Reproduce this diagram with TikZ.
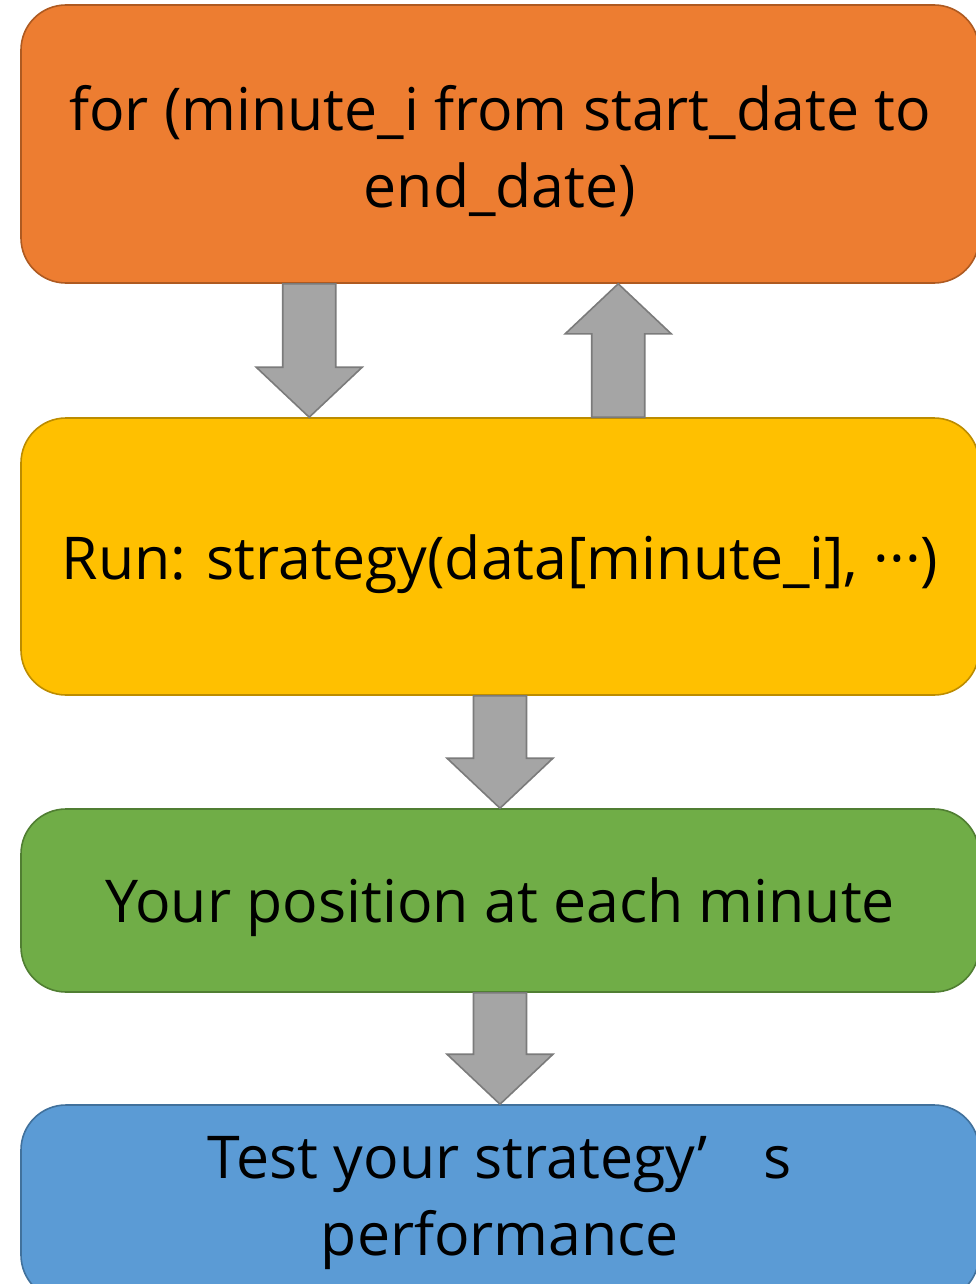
\documentclass[tikz,border=0pt]{standalone}
\usepackage{fontspec}
\setmainfont{Open Sans}
\usetikzlibrary{calc}

\definecolor{loopfill}{HTML}{ED7D31}\definecolor{loopline}{HTML}{AE5A21}
\definecolor{runfill}{HTML}{FFC000}\definecolor{runline}{HTML}{BC8C00}
\definecolor{posfill}{HTML}{70AD47}\definecolor{posline}{HTML}{507E32}
\definecolor{testfill}{HTML}{5B9BD5}\definecolor{testline}{HTML}{41719C}
\definecolor{arrowfill}{HTML}{A5A5A5}\definecolor{arrowline}{HTML}{7B7B7B}

\tikzset{
  stagebox/.style={draw, line width=1.6pt, rounded corners=45pt,
    minimum width=958pt, inner sep=0pt},
  stagetext/.style={align=center, inner sep=0pt,
    font=\fontsize{59}{77}\selectfont},
  blockarrow/.style={fill=arrowfill, draw=arrowline, line width=1.6pt, line join=miter}
}

% vertical block arrow: #1 start, #2 tip, #3 = 1 (down) or -1 (up)
\newcommand{\fatarrow}[3]{%
  \draw[blockarrow] let \p1=(#1), \p2=(#2) in
    (\x1-26.5pt,\y1) -- (\x1-26.5pt,\y2+#3*50pt) -- (\x1-53pt,\y2+#3*50pt)
    -- (\x2,\y2) -- (\x1+53pt,\y2+#3*50pt) -- (\x1+26.5pt,\y2+#3*50pt)
    -- (\x1+26.5pt,\y1) -- cycle;}

\begin{document}
\begin{tikzpicture}[x=1pt,y=-1pt]
  \useasboundingbox (0,0) rectangle (976,1284);
  \clip (0,0) rectangle (976,1284);

  % stage boxes
  \node[stagebox, fill=loopfill, draw=loopline, minimum height=278pt] (loop) at (500,144) {};
  \node[stagebox, fill=runfill, draw=runline, minimum height=277pt] (run) at (500,556.5) {};
  \node[stagebox, fill=posfill, draw=posline, minimum height=183pt] (pos) at (500,900.5) {};
  \node[stagebox, fill=testfill, draw=testline, minimum height=195pt] (test) at (500,1202.5) {};

  % box captions
  \node[stagetext] (loop-text) at ([yshift=-7.5pt]loop.center)
    {for (minute\_i from start\_date to\\end\_date)};
  \node[stagetext] (run-text) at ([yshift=-8pt]run.center)
    {Run: strategy(data[minute\_i], ···)};
  \node[stagetext] (pos-text) at ([yshift=-7pt]pos.center)
    {Your position at each minute};
  \node[stagetext] (test-text) at ([yshift=-1pt]test.center)
    {Test your strategy’\hspace{0.95em}s\\performance};

  % anchor points of the arrows on the box edges
  \path (loop.south west) ++(289,0) coordinate (a1s);
  \path (run.north west)  ++(289,0) coordinate (a1e);
  \path (run.north west)  ++(598,0) coordinate (a2s);
  \path (loop.south west) ++(598,0) coordinate (a2e);
  \path (run.south)  coordinate (a3s);
  \path (pos.north)  coordinate (a3e);
  \path (pos.south)  coordinate (a4s);
  \path (test.north) coordinate (a4e);

  \fatarrow{a1s}{a1e}{1}
  \fatarrow{a2s}{a2e}{-1}
  \fatarrow{a3s}{a3e}{1}
  \fatarrow{a4s}{a4e}{1}
\end{tikzpicture}
\end{document}
